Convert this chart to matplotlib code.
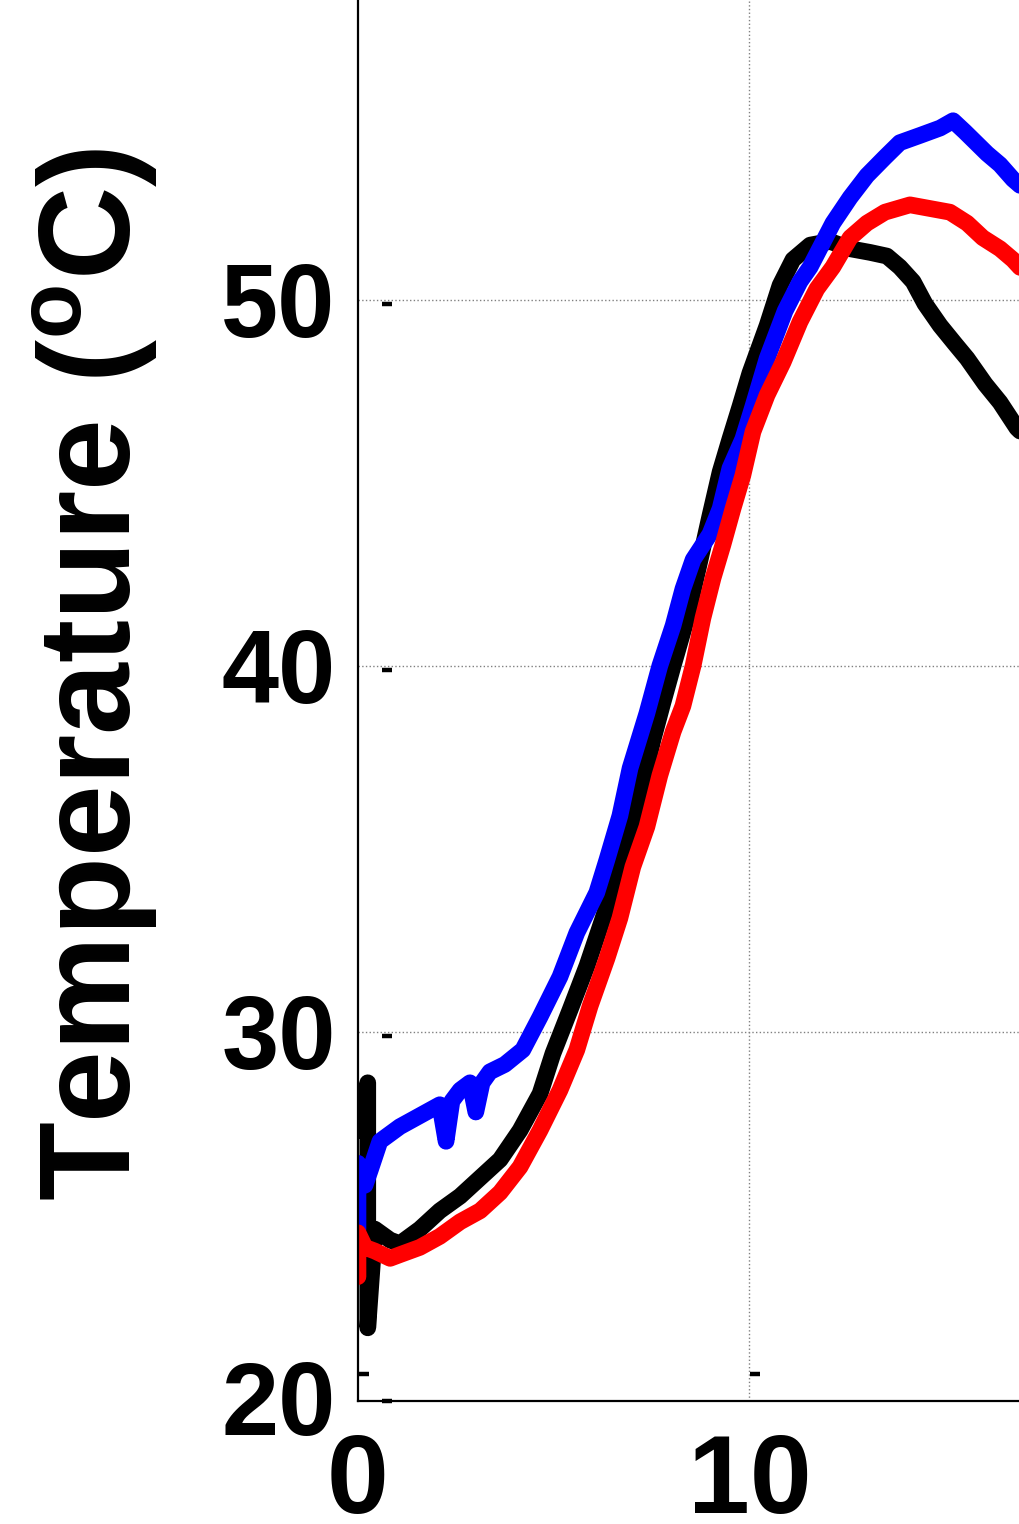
import matplotlib
matplotlib.use("Agg")
import matplotlib.pyplot as plt
from matplotlib.transforms import offset_copy

plt.rcParams['font.family'] = ['Liberation Sans', 'DejaVu Sans']
plt.rcParams['font.weight'] = 'bold'
plt.rcParams['mathtext.fontset'] = 'custom'
plt.rcParams['mathtext.bf'] = 'Liberation Sans:bold'
plt.rcParams['mathtext.rm'] = 'Liberation Sans:bold'

# time (x) and temperature readings for the three probes
t_black = [0.0, 0.25, 0.25, 0.43, 0.82, 1.07, 1.58, 2.09, 2.61, 3.12, 3.63, 4.14,
           4.65, 4.98, 5.42, 5.85, 6.26, 6.62, 6.95, 7.28, 7.54, 7.79, 8.05, 8.40,
           8.74, 8.99, 9.25, 9.50, 9.76, 10.01, 10.45, 10.78, 11.11, 11.55, 12.06,
           12.57, 13.08, 13.51, 13.84, 14.18, 14.48, 14.87, 15.25, 15.56, 16.02,
           16.40, 16.83, 17.50]
temp_black = [27.3, 28.6, 21.9, 24.6, 24.3, 24.2, 24.6, 25.1, 25.5, 26.0, 26.5, 27.3,
              28.3, 29.4, 30.6, 31.8, 33.1, 34.3, 35.4, 36.8, 38.0, 39.0, 40.0, 41.3,
              42.9, 44.1, 45.3, 46.2, 47.1, 48.0, 49.3, 50.4, 51.1, 51.5, 51.6,
              51.4, 51.3, 51.2, 50.9, 50.5, 49.9, 49.3, 48.8, 48.4, 47.7,
              47.2, 46.5, 45.8]

t_blue = [0.0, 0.0, 0.18, 0.31, 0.56, 1.07, 1.58, 2.09, 2.25, 2.40, 2.61, 2.86, 3.01,
          3.17, 3.37, 3.75, 4.21, 4.65, 5.16, 5.59, 6.10, 6.36, 6.69, 6.95, 7.38,
          7.71, 8.05, 8.30, 8.56, 8.99, 9.25, 9.50, 9.83, 10.09, 10.45, 10.91, 11.29,
          11.55, 12.13, 12.57, 13.00, 13.46, 13.84, 14.36, 14.87, 15.20, 15.50,
          16.07, 16.40, 16.73, 17.16]
temp_blue = [24.6, 26.4, 25.8, 26.2, 27.0, 27.4, 27.7, 28.0, 27.0, 28.1, 28.4, 28.6, 27.8,
             28.6, 28.9, 29.1, 29.5, 30.4, 31.5, 32.7, 33.8, 34.7, 35.9, 37.2, 38.7,
             40.0, 41.1, 42.1, 42.9, 43.6, 44.3, 45.4, 46.2, 47.1, 48.4, 49.7, 50.5,
             50.9, 52.1, 52.8, 53.4, 53.9, 54.3, 54.5, 54.7, 54.9, 54.6,
             54.0, 53.7, 53.3, 52.9]

t_red = [0.0, 0.0, 0.18, 0.43, 0.82, 1.07, 1.58, 2.09, 2.61, 3.12, 3.63, 4.14, 4.65,
         5.16, 5.59, 5.93, 6.36, 6.69, 7.02, 7.38, 7.71, 8.05, 8.30, 8.56, 8.81,
         9.07, 9.32, 9.58, 9.83, 10.09, 10.45, 10.86, 11.29, 11.72, 12.13, 12.57,
         13.00, 13.46, 14.10, 14.61, 15.12, 15.56, 15.96, 16.40, 16.73, 17.16]
temp_red = [23.3, 24.5, 24.1, 24.0, 23.8, 23.9, 24.1, 24.4, 24.8, 25.1, 25.6, 26.3, 27.3,
            28.4, 29.5, 30.7, 32.0, 33.1, 34.5, 35.6, 37.0, 38.2, 38.9, 40.0, 41.3,
            42.4, 43.3, 44.3, 45.2, 46.4, 47.4, 48.3, 49.4, 50.3, 50.9, 51.7,
            52.1, 52.4, 52.6, 52.5, 52.4, 52.1, 51.7, 51.4, 51.1, 50.6]

xticks = [0, 10]
yticks = [20, 30, 40, 50]

fig = plt.figure(figsize=(10.19, 15.24), dpi=100)
ax = fig.add_axes([0.3513, 0.0807, 0.7684, 0.9625])

lw = 12
for t, temp, c in [(t_black, temp_black, 'black'),
                   (t_blue, temp_blue, 'blue'),
                   (t_red, temp_red, 'red')]:
    ax.plot(t, temp, color=c, lw=lw, solid_capstyle='round', solid_joinstyle='round')

ax.set_xlim(0, 20)
ax.set_ylim(19.9, 60)
ax.set_xticks(xticks)
ax.set_yticks(yticks)
ax.grid(True, color='#808080', linestyle=':', linewidth=1.0)
ax.set_axisbelow(True)
# the 20 gridline would sit on top of the bottom spine
ax.yaxis.get_gridlines()[0].set_visible(False)
ax.xaxis.get_gridlines()[0].set_visible(False)

for s in ax.spines.values():
    s.set_linewidth(1.6)

ax.tick_params(axis='both', length=0)
ax.tick_params(axis='y', labelsize=74, pad=16)
ax.tick_params(axis='x', labelsize=80, pad=22)
for lab in ax.get_xticklabels() + ax.get_yticklabels():
    lab.set_fontweight('bold')

# short tick dashes, drawn slightly off the spines
ytr = offset_copy(ax.get_yaxis_transform(), fig=fig, x=29, y=-4, units='dots')
xtr = offset_copy(ax.get_xaxis_transform(), fig=fig, x=6, y=27, units='dots')
for v in yticks:
    ax.plot([0], [v], marker='_', ms=7.5, mew=3.2, color='black',
            transform=ytr, clip_on=False)
for v in xticks:
    ax.plot([v], [0], marker='_', ms=7, mew=3.2, color='black',
            transform=xtr, clip_on=False)

ax.set_ylabel(r'Temperature ($^{\mathbf{o}}$C)', fontsize=93, fontweight='bold')
ax.yaxis.set_label_coords(-0.253, 0.495)

fig.savefig('out.png', dpi=100)
